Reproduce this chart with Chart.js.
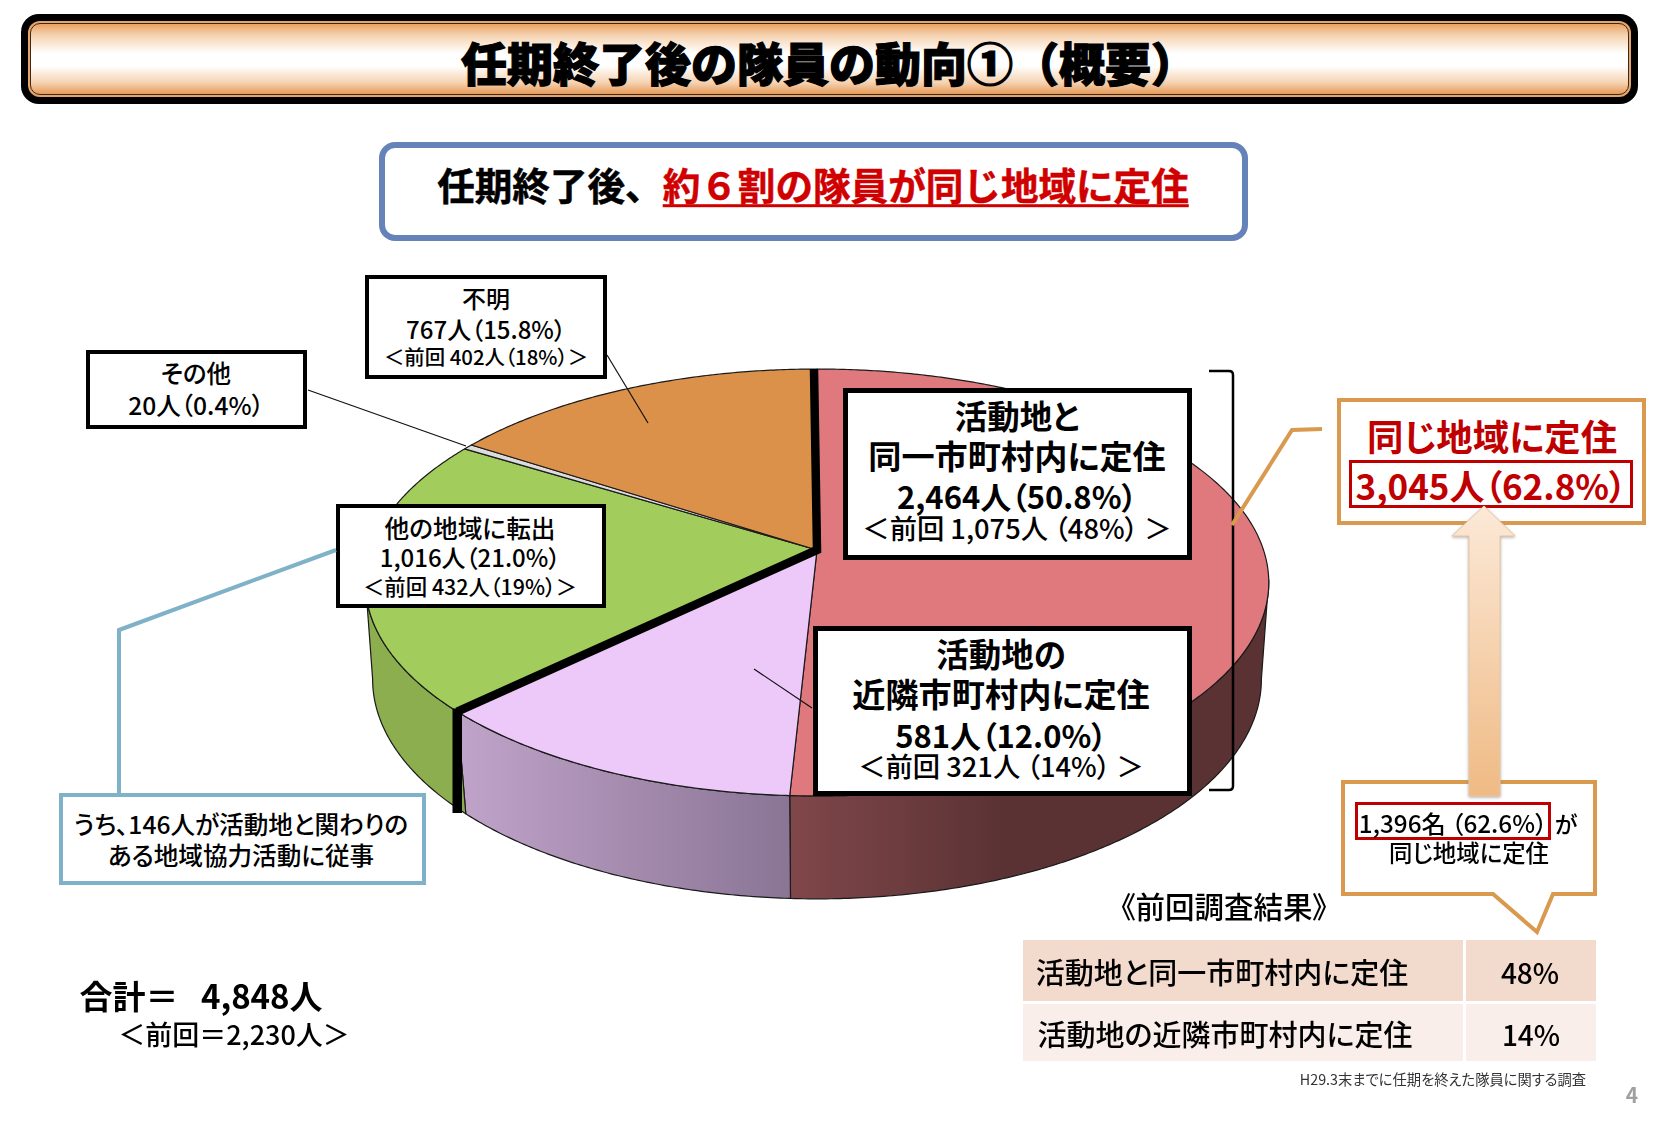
<!DOCTYPE html>
<html lang="ja">
<head>
<meta charset="utf-8">
<title>任期終了後の隊員の動向①（概要）</title>
<script src="https://cdn.jsdelivr.net/npm/chart.js@4"></script>
<style>
  html, body { margin: 0; padding: 0; background: #fff; }
  #page { position: relative; width: 1653px; height: 1125px; overflow: hidden;
          font-family: "Noto Sans CJK JP", "Noto Sans", sans-serif; color: #000;
          font-feature-settings: "palt"; }
  #pie { position: absolute; left: 0; top: 0; }
  #marks { position: absolute; left: 0; top: 0; pointer-events: none; }
  .box { position: absolute; box-sizing: border-box; background: #fff; }
  .txt { position: absolute; white-space: nowrap; transform: translate(-50%, -50%); line-height: 1; font-weight: 500; }
  #bar0 { position: absolute; left: 21px; top: 14px; width: 1617px; height: 90px; background: #000; border-radius: 18px; }
  #bar1 { position: absolute; left: 7px; top: 7px; right: 7px; bottom: 7px; background: #e8a468; border-radius: 12px; }
  #bar2 { position: absolute; left: 2px; top: 2px; right: 2px; bottom: 2px; border: 1px solid #3a2a1a; border-radius: 10px;
          background: linear-gradient(180deg, #e9a262 0%, #f5d2b0 16%, #fff 42%, #fff 60%, #f5d2b0 84%, #e59a5a 100%); }
</style>
</head>
<body>
<div id="page">
  <canvas id="pie" width="1653" height="1125"></canvas>
  <div id="bar0"><div id="bar1"><div id="bar2"></div></div></div>
  <div id="labels"></div>
  <svg id="marks" width="1653" height="1125" xmlns="http://www.w3.org/2000/svg">
    <defs>
      <linearGradient id="arrowFill" x1="0" y1="0" x2="0" y2="1">
        <stop offset="0" stop-color="#fce9d8"/>
        <stop offset="1" stop-color="#efba84"/>
      </linearGradient>
      <filter id="soft" x="-30%" y="-5%" width="160%" height="110%">
        <feDropShadow dx="0" dy="1" stdDeviation="1.5" flood-color="#888" flood-opacity="0.7"/>
      </filter>
    </defs>
    <!-- 引出線 -->
    <g fill="none" stroke="#111" stroke-width="1.2">
      <path d="M308 390 L466 446"/>
      <path d="M607 355 L648 423"/>
      <path d="M754 669 L812 708"/>
    </g>
    <path d="M119 793 V630 L336 550" fill="none" stroke="#7fb2c8" stroke-width="4"/>
    <path d="M1209 371 H1229 Q1233 371 1233 375 V786 Q1233 790 1229 790 H1209" fill="none" stroke="#000" stroke-width="2.5"/>
    <path d="M1232 525 L1292 430 L1322 429" fill="none" stroke="#d9994f" stroke-width="4"/>
    <!-- 吹き出し -->
    <path d="M1343 782 H1595 V894 H1553 L1537 932 L1493 894 H1343 Z" fill="#fff" stroke="#d9994f" stroke-width="4"/>
    <!-- 矢印 -->
    <path d="M1484 506 L1515 536 H1500 V796 H1469 V536 H1452 Z" fill="url(#arrowFill)" stroke="#e9c6a2" stroke-width="1" filter="url(#soft)"/>
  </svg>
  <div id="labels2"></div>
</div>
<script>
// --- データ ---
const categories = ['活動地と同一市町村内に定住', '活動地の近隣市町村内に定住', '他の地域に転出', 'その他', '不明'];
const counts = [2464, 581, 1016, 20, 767];
const percents = ['50.8', '12.0', '21.0', '0.4', '15.8'];
const prevCounts = [1075, 321, 432, null, 402];
const prevPercents = [48, 14, 19, null, 18];
const total = 4848;
const prevTotal = 2230;
const settled = 3045;
const settledPercent = '62.8';
const prevSettled = 1396;
const prevSettledPercent = '62.6';
const localWork = 146;

const topColors = ['#e0797d', '#ecc9f9', '#a2cc5b', '#dcdcdc', '#dc914a'];

// --- 3D 円グラフの投影 ---
const cx = 817;
const topPlane = { k: 446.5, a: 124.8, b: 550, c: -0.1522 };
const basePlane = { k: 440, a: 124.4, b: 648.6, c: -0.14 };
const wallFrom = 98 * Math.PI / 180;
const wallTo = 262 * Math.PI / 180;

function project(angle, p) {
  const u = Math.sin(angle), v = -Math.cos(angle), d = 1 + p.c * v;
  return [cx + p.k * u / d, (p.b + p.a * v) / d];
}

function wallFill(ctx, i) {
  if (i === 0) {
    const g = ctx.createLinearGradient(790, 0, 1270, 0);
    g.addColorStop(0, '#80474a'); g.addColorStop(0.45, '#5a3234'); g.addColorStop(1, '#5a3234');
    return g;
  }
  if (i === 1) {
    const g = ctx.createLinearGradient(460, 0, 790, 0);
    g.addColorStop(0, '#c0a3c9'); g.addColorStop(1, '#8a7595');
    return g;
  }
  return '#8cae4e';
}

const pie3d = {
  id: 'pie3d',
  beforeDatasetsDraw(chart) {
    const ctx = chart.ctx;
    const arcs = chart.getDatasetMeta(0).data;
    const ang = arcs.map(a => [a.startAngle + Math.PI / 2, a.endAngle + Math.PI / 2]);
    const step = Math.PI / 360;
    ctx.save();
    ctx.lineJoin = 'round';

    // 側面
    ang.forEach(([s, e], i) => {
      const from = Math.max(s, wallFrom), to = Math.min(e, wallTo);
      if (to <= from) return;
      ctx.beginPath();
      for (let a = from; a < to; a += step) ctx.lineTo(...project(a, topPlane));
      ctx.lineTo(...project(to, topPlane));
      for (let a = to; a > from; a -= step) ctx.lineTo(...project(a, basePlane));
      ctx.lineTo(...project(from, basePlane));
      ctx.closePath();
      ctx.fillStyle = wallFill(ctx, i);
      ctx.fill();
      ctx.lineWidth = 1.2;
      ctx.strokeStyle = '#1a1a1a';
      ctx.stroke();
    });

    // 上面
    const apex = [cx, topPlane.b];
    ang.forEach(([s, e], i) => {
      ctx.beginPath();
      ctx.moveTo(...apex);
      for (let a = s; a < e; a += step) ctx.lineTo(...project(a, topPlane));
      ctx.lineTo(...project(e, topPlane));
      ctx.closePath();
      ctx.fillStyle = arcs[i].options.backgroundColor;
      ctx.fill();
      ctx.lineWidth = arcs[i].options.borderWidth;
      ctx.strokeStyle = arcs[i].options.borderColor;
      ctx.stroke();
    });

    // 定住の区切り（太線）
    const start = project(ang[0][0], topPlane);
    const split = project(ang[1][1], topPlane);
    ctx.strokeStyle = '#000';
    ctx.lineJoin = 'miter';
    ctx.lineWidth = 8.5;
    ctx.beginPath();
    ctx.moveTo(start[0] - 3, start[1]);
    ctx.lineTo(...apex);
    ctx.lineTo(split[0], split[1]);
    ctx.stroke();
    ctx.lineWidth = 9.5;
    ctx.beginPath();
    ctx.moveTo(split[0], split[1] - 3);
    ctx.lineTo(split[0], 813);
    ctx.stroke();
    ctx.restore();
    return false;
  }
};

new Chart(document.getElementById('pie'), {
  type: 'pie',
  data: {
    labels: categories,
    datasets: [{ data: counts, backgroundColor: topColors, borderColor: '#1a1a1a', borderWidth: 1.2 }]
  },
  options: {
    responsive: false,
    animation: false,
    plugins: { legend: { display: false }, tooltip: { enabled: false } }
  },
  plugins: [pie3d]
});

// --- テキストと枠 ---
const fmt = n => n.toLocaleString('en-US');
const amount = i => `${fmt(counts[i])}人（${percents[i]}%）`;
const prevShort = i => `＜前回 ${prevCounts[i]}人（${prevPercents[i]}%）＞`;
const prevLong = i => `＜前回 ${fmt(prevCounts[i])}人 （${prevPercents[i]}%） ＞`;

const layer = document.getElementById('labels');
const layer2 = document.getElementById('labels2');

function box(l, t, r, b, css, parent = layer) {
  const d = document.createElement('div');
  d.className = 'box';
  d.style.cssText = `left:${l}px;top:${t}px;width:${r - l}px;height:${b - t}px;${css}`;
  parent.appendChild(d);
}
function put(html, x, y, size, css = '', parent = layer) {
  const d = document.createElement('div');
  d.className = 'txt';
  d.style.cssText = `left:${x}px;top:${y}px;font-size:${size}px;${css}`;
  d.innerHTML = html;
  parent.appendChild(d);
}

const BLACK4 = 'border:4px solid #000;';
const RED = 'color:#c00000;font-weight:700;';

put('任期終了後の隊員の動向①（概要）', 829, 61, 46, 'font-weight:900;font-feature-settings:normal;-webkit-text-stroke:1.2px #000;', layer);

box(379, 142, 1248, 241, 'border:6px solid #6583b8;border-radius:16px;');
put('任期終了後、<span style="color:#d00000;text-decoration:underline;text-decoration-thickness:2.5px;text-underline-offset:4px;">約６割の隊員が同じ地域に定住</span>',
    813, 184, 37.6, 'font-weight:700;font-feature-settings:normal;-webkit-text-stroke:0.5px;');

box(365, 275, 607, 379, BLACK4);
put(categories[4], 486, 298, 24);
put(amount(4), 486, 329, 24);
put(prevShort(4), 486, 356, 20.4);

box(86, 350, 307, 429, BLACK4);
put(categories[3], 196, 373, 24.5);
put(amount(3), 196, 404, 24.6);

box(336, 504, 606, 608, BLACK4);
put(categories[2], 470, 527, 24.7);
put(amount(2), 470, 557, 24);
put(prevShort(2), 470, 586, 21.4);

box(843, 388, 1192, 560, 'border:5px solid #000;');
put('活動地と', 1017, 415, 32.5, 'font-weight:700;');
put('同一市町村内に定住', 1017, 455, 33.2, 'font-weight:700;');
put(amount(0), 1017, 495, 31, 'font-weight:700;');
put(prevLong(0), 1017, 528, 27.3);

box(813, 626, 1192, 796, 'border:5px solid #000;');
put('活動地の', 1001, 653, 32.5, 'font-weight:700;');
put('近隣市町村内に定住', 1001, 693, 33.2, 'font-weight:700;');
put(amount(1), 1001, 734, 31, 'font-weight:700;');
put(prevLong(1), 1001, 766, 27.3);

box(59, 793, 426, 885, 'border:4px solid #7fb2c8;');
put(`うち、${localWork}人が活動地と関わりの`, 241, 823, 24.6);
put('ある地域協力活動に従事', 241, 854, 24.6);

put(`合計＝&nbsp;&nbsp;&nbsp;${fmt(total)}人`, 201, 995, 33, 'font-weight:700;');
put(`＜前回＝${fmt(prevTotal)}人＞`, 234, 1033, 27);

box(1337, 398, 1646, 525, 'border:4px solid #d9994f;');
put('同じ地域に定住', 1492, 435, 36.4, RED);
box(1349, 460, 1633, 508, 'border:3px solid #c00000;');
put(`${fmt(settled)}人（${settledPercent}%）`, 1491, 484, 35, RED);

box(1355, 802, 1551, 840, 'border:3px solid #c00000;background:transparent;', layer2);
put(`${fmt(prevSettled)}名 （${prevSettledPercent}%）`, 1453, 823, 24.3, '', layer2);
put('が', 1566, 823, 23, '', layer2);
put('同じ地域に定住', 1469, 853, 23.4, '', layer2);

put('《前回調査結果》', 1224, 906, 29.5, '', layer2);

box(1023, 940, 1463, 1001, 'background:#f2dacd;', layer2);
box(1466, 940, 1596, 1001, 'background:#f2dacd;', layer2);
box(1023, 1004, 1463, 1061, 'background:#f9eeea;', layer2);
box(1466, 1004, 1596, 1061, 'background:#f9eeea;', layer2);
put(categories[0], 1222, 971, 29, '', layer2);
put(categories[1], 1225, 1033, 29, '', layer2);
put(`${prevPercents[0]}%`, 1530, 972, 28, '', layer2);
put(`${prevPercents[1]}%`, 1531, 1034, 28, '', layer2);

put('H29.3末までに任期を終えた隊員に関する調査', 1443, 1079, 14.3,
    'font-family:&quot;Liberation Serif&quot;,&quot;Noto Sans CJK JP&quot;,serif;color:#333;font-weight:400;', layer2);
put('4', 1632, 1094, 21, 'color:#a0a0a0;font-weight:700;', layer2);
</script>
</body>
</html>
